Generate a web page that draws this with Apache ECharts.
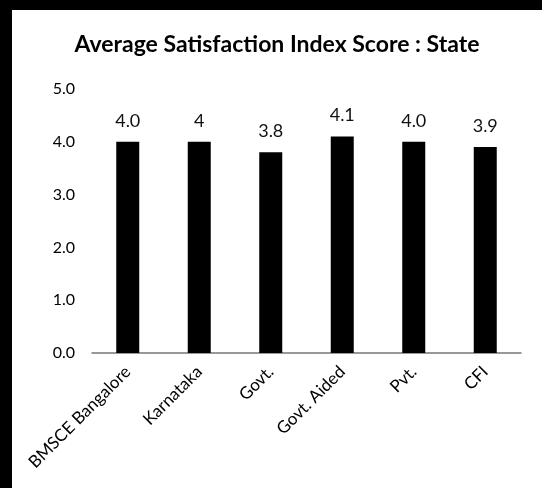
<!DOCTYPE html>
<html>
<head>
<meta charset="utf-8">
<script src="https://cdn.jsdelivr.net/npm/echarts@6/dist/echarts.min.js"></script>
<style>
  html, body { margin: 0; padding: 0; width: 542px; height: 488px; background: #000; overflow: hidden; }
  .chart-score { position: absolute; left: 12px; top: 10px; width: 530px; height: 478px; background: #fff; }
</style>
</head>
<body>
<div class="chart-score" id="scoreChart"></div>
<script>
// 数据
const categories = ['BMSCE Bangalore', 'Karnataka', 'Govt.', 'Govt. Aided', 'Pvt.', 'CFI'];
const scores = [4.0, 4.0, 3.8, 4.1, 4.0, 3.9];
const scoreLabels = ['4.0', '4', '3.8', '4.1', '4.0', '3.9'];

const chart = echarts.init(document.getElementById('scoreChart'));

const option = {
  textStyle: { fontFamily: 'Lato' },
  title: {
    text: 'Average Satisfaction Index Score : State',
    left: 'center',
    top: 18,
    textStyle: { fontSize: 23, fontWeight: 'bold', color: '#000', fontFamily: 'Lato' }
  },
  grid: {
    left: 80,
    right: 21,
    top: 79,
    bottom: 135
  },
  xAxis: {
    type: 'category',
    data: categories,
    axisLine: { lineStyle: { color: '#777', width: 1.5 } },
    axisTick: { show: false },
    axisLabel: {
      rotate: 45,
      margin: 16,
      fontSize: 17,
      color: '#000',
      interval: 0
    }
  },
  yAxis: {
    type: 'value',
    min: 0,
    max: 5,
    interval: 1,
    axisLine: { show: false },
    axisTick: { show: false },
    splitLine: { show: false },
    axisLabel: {
      margin: 17,
      fontSize: 16,
      color: '#000',
      formatter: v => v.toFixed(1)
    }
  },
  series: [
    {
      type: 'bar',
      data: scores,
      barWidth: 23,
      itemStyle: { color: '#000' },
      label: {
        show: true,
        position: 'top',
        distance: 12,
        fontSize: 18,
        color: '#111',
        formatter: p => scoreLabels[p.dataIndex]
      }
    }
  ]
};

chart.setOption(option);
</script>
</body>
</html>
